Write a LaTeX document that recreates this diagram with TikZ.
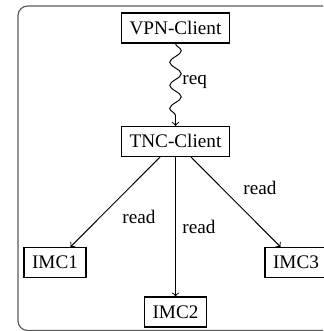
\documentclass[tikz,border=0pt]{standalone}
\usepackage{fontspec}
\setmainfont{Liberation Serif}
\usetikzlibrary{decorations.pathmorphing}
\begin{document}
\begin{tikzpicture}[x=0.5208pt,y=-0.5208pt,
  box/.style={draw, line width=0.6pt, inner xsep=4.2pt, inner ysep=0pt, minimum height=15.6pt, text height=6.8pt, text depth=0.2pt},
  conn/.style={->, line width=0.5pt},
  lbl/.style={inner sep=0pt},
  frame/.style={draw=black!65, line width=0.6pt, rounded corners=5pt}]
\useasboundingbox (0,0) rectangle (323,331);
\begin{scope}
\clip (0,0) rectangle (323,331);
\draw[frame] (345,6) -- (18,6) -- (18,330.5) -- (345,330.5);
\end{scope}
\node[box] (vpn) at (175.5,28) {VPN-Client};
\node[box] (tnc) at (175.5,141.5) {TNC-Client};
\node[box] (imc1) at (55,262.5) {IMC1};
\node[box] (imc2) at (175.5,312) {IMC2};
\node[box] (imc3) at (296,262.5) {IMC3};
\draw[conn, decorate, decoration={snake, amplitude=3pt, segment length=12pt, post length=3pt}] (vpn) -- (tnc);
\node[lbl, anchor=west] (req) at (182,82) {req};
\draw[conn] (tnc) -- (imc1);
\draw[conn] (tnc) -- (imc2);
\draw[conn] (tnc) -- (imc3);
\node[lbl] (r1) at (139,217) {read};
\node[lbl] (r2) at (199,227) {read};
\node[lbl] (r3) at (260,188) {read};
\end{tikzpicture}
\end{document}
